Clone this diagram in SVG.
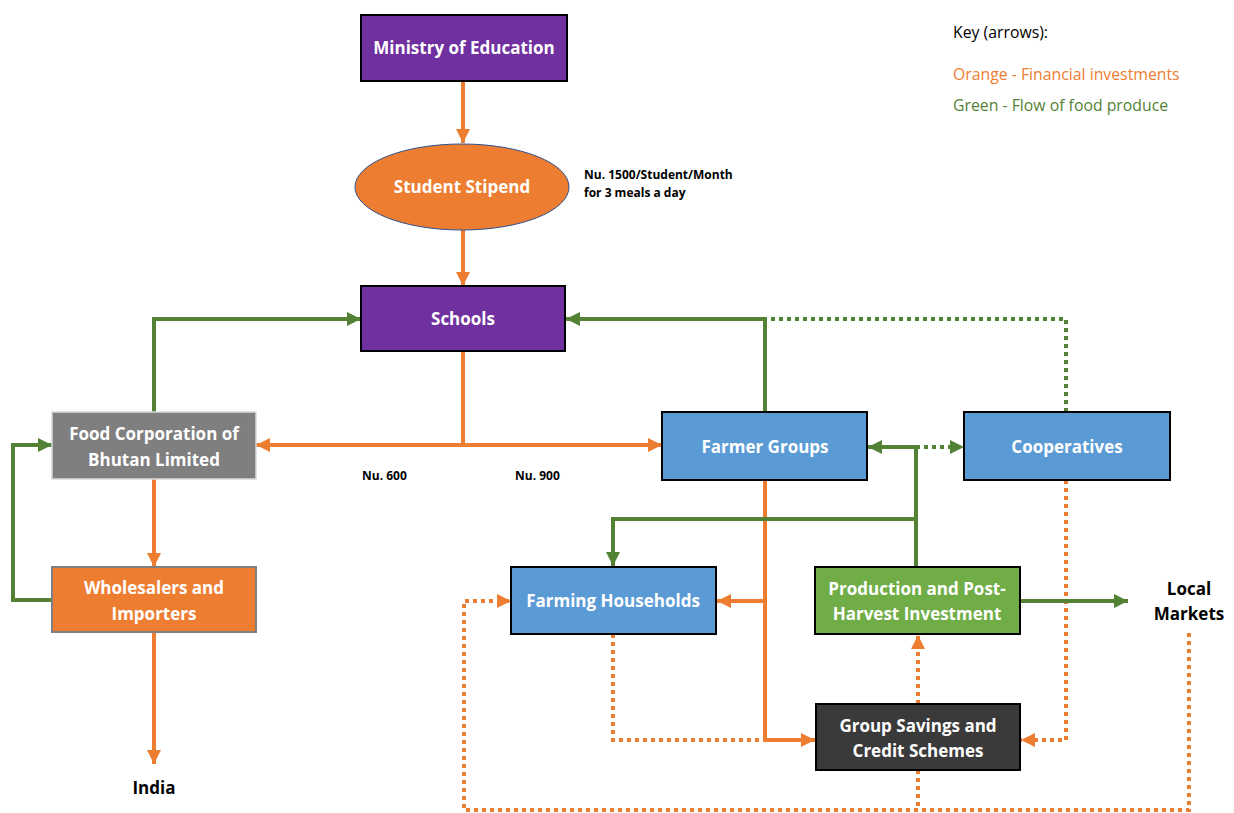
<svg xmlns="http://www.w3.org/2000/svg" width="1234" height="813" viewBox="0 0 1234 813">
  <style>
    .box { stroke: #000; stroke-width: 2; }
    .lbl { font-family: "Open Sans", "Liberation Sans", sans-serif; font-weight: bold; font-size: 17px; fill: #fff; text-anchor: middle; }
    .note { font-family: "Open Sans", "Liberation Sans", sans-serif; font-weight: bold; font-size: 12px; fill: #000; }
    .ext { font-family: "Open Sans", "Liberation Sans", sans-serif; font-weight: bold; font-size: 17px; fill: #000; text-anchor: middle; }
    .key { font-family: "Open Sans", "Liberation Sans", sans-serif; font-size: 15.8px; }
    .or { fill: none; stroke: #ED7D31; stroke-width: 4; }
    .gr { fill: none; stroke: #548235; stroke-width: 4; }
    .dot { stroke-dasharray: 4 4; }
  </style>
  <defs>
    <marker id="aO" viewBox="0 0 12 12" refX="12" refY="6" markerWidth="14" markerHeight="14" markerUnits="userSpaceOnUse" orient="auto">
      <path d="M0,0 L12,6 L0,12 z" fill="#ED7D31"/>
    </marker>
    <marker id="aG" viewBox="0 0 12 12" refX="12" refY="6" markerWidth="14" markerHeight="14" markerUnits="userSpaceOnUse" orient="auto">
      <path d="M0,0 L12,6 L0,12 z" fill="#548235"/>
    </marker>
  </defs>

  <rect width="1234" height="813" fill="#fff"/>

  <!-- connectors -->
  <g id="connectors">
    <!-- financial flows -->
    <path class="or" d="M463,81 L463,143" marker-end="url(#aO)"/>
    <path class="or" d="M463,229 L463,286" marker-end="url(#aO)"/>
    <path class="or" d="M463,351 L463,445 L256,445" marker-end="url(#aO)"/>
    <path class="or" d="M463,445 L662,445" marker-end="url(#aO)"/>
    <path class="or" d="M154,479 L154,567" marker-end="url(#aO)"/>
    <path class="or" d="M154,632 L154,764" marker-end="url(#aO)"/>
    <path class="or" d="M765,480 L765,740 L815,740" marker-end="url(#aO)"/>
    <path class="or" d="M765,601 L717,601" marker-end="url(#aO)"/>
    <path class="or dot" d="M613,634 L613,740 L765,740"/>
    <path class="or dot" d="M918,704 L918,635" marker-end="url(#aO)"/>
    <path class="or dot" d="M1066,480 L1066,740 L1021,740" marker-end="url(#aO)"/>
    <path class="or dot" d="M918,770 L918,810"/>
    <path class="or dot" d="M1189,633 L1189,810 L464,810 L464,601 L511,601" marker-end="url(#aO)"/>
    <!-- food produce flows -->
    <path class="gr" d="M154,412 L154,319 L361,319" marker-end="url(#aG)"/>
    <path class="gr" d="M52,600 L13,600 L13,445 L52,445" marker-end="url(#aG)"/>
    <path class="gr" d="M765,412 L765,319 L566,319" marker-end="url(#aG)"/>
    <path class="gr dot" d="M1066,412 L1066,319 L765,319"/>
    <path class="gr" d="M916,566 L916,447 L868,447" marker-end="url(#aG)"/>
    <path class="gr dot" d="M916,447 L964,447" marker-end="url(#aG)"/>
    <path class="gr" d="M916,519 L613,519 L613,566" marker-end="url(#aG)"/>
    <path class="gr" d="M1020,601 L1128,601" marker-end="url(#aG)"/>
  </g>

  <!-- nodes -->
  <g id="ministry">
    <rect class="box" x="361" y="15" width="206" height="66" fill="#7030A0"/>
    <text class="lbl" x="464" y="54">Ministry of Education</text>
  </g>
  <g id="stipend">
    <ellipse cx="462" cy="187" rx="107" ry="43" fill="#ED7D31" stroke="#2F528F" stroke-width="1"/>
    <text class="lbl" x="462" y="193">Student Stipend</text>
  </g>
  <g id="stipend-note">
    <text class="note" x="584" y="179">Nu. 1500/Student/Month</text>
    <text class="note" x="584" y="197">for 3 meals a day</text>
  </g>
  <g id="schools">
    <rect class="box" x="361" y="286" width="204" height="65" fill="#7030A0"/>
    <text class="lbl" x="463" y="325">Schools</text>
  </g>
  <g id="fcb">
    <rect x="52" y="412" width="204" height="67" fill="#7F7F7F" stroke="#D9D9D9" stroke-width="1.5"/>
    <text class="lbl" x="154" y="440">Food Corporation of</text>
    <text class="lbl" x="154" y="466">Bhutan Limited</text>
  </g>
  <g id="amounts">
    <text class="note" x="362" y="480">Nu. 600</text>
    <text class="note" x="515" y="480">Nu. 900</text>
  </g>
  <g id="farmer-groups">
    <rect class="box" x="662" y="412" width="205" height="68" fill="#5B9BD5"/>
    <text class="lbl" x="765" y="453">Farmer Groups</text>
  </g>
  <g id="cooperatives">
    <rect class="box" x="964" y="412" width="206" height="68" fill="#5B9BD5"/>
    <text class="lbl" x="1067" y="453">Cooperatives</text>
  </g>
  <g id="wholesalers">
    <rect x="52" y="567" width="204" height="65" fill="#ED7D31" stroke="#7F7F7F" stroke-width="2"/>
    <text class="lbl" x="154" y="594">Wholesalers and</text>
    <text class="lbl" x="154" y="620">Importers</text>
  </g>
  <g id="farming-households">
    <rect class="box" x="511" y="567" width="205" height="67" fill="#5B9BD5"/>
    <text class="lbl" x="613" y="607">Farming Households</text>
  </g>
  <g id="production">
    <rect class="box" x="815" y="567" width="205" height="67" fill="#70AD47"/>
    <text class="lbl" x="917" y="595">Production and Post-</text>
    <text class="lbl" x="917" y="620">Harvest Investment</text>
  </g>
  <g id="savings">
    <rect class="box" x="816" y="704" width="204" height="66" fill="#3A3A3A"/>
    <text class="lbl" x="918" y="732">Group Savings and</text>
    <text class="lbl" x="918" y="757">Credit Schemes</text>
  </g>
  <g id="local-markets">
    <text class="ext" x="1189" y="595">Local</text>
    <text class="ext" x="1189" y="620">Markets</text>
  </g>
  <g id="india">
    <text class="ext" x="154" y="794">India</text>
  </g>

  <!-- legend -->
  <g id="key">
    <text class="key" x="953" y="38" fill="#000">Key (arrows):</text>
    <text class="key" x="953" y="80" fill="#ED7D31">Orange - Financial investments</text>
    <text class="key" x="953" y="111" fill="#548235">Green - Flow of food produce</text>
  </g>
</svg>
